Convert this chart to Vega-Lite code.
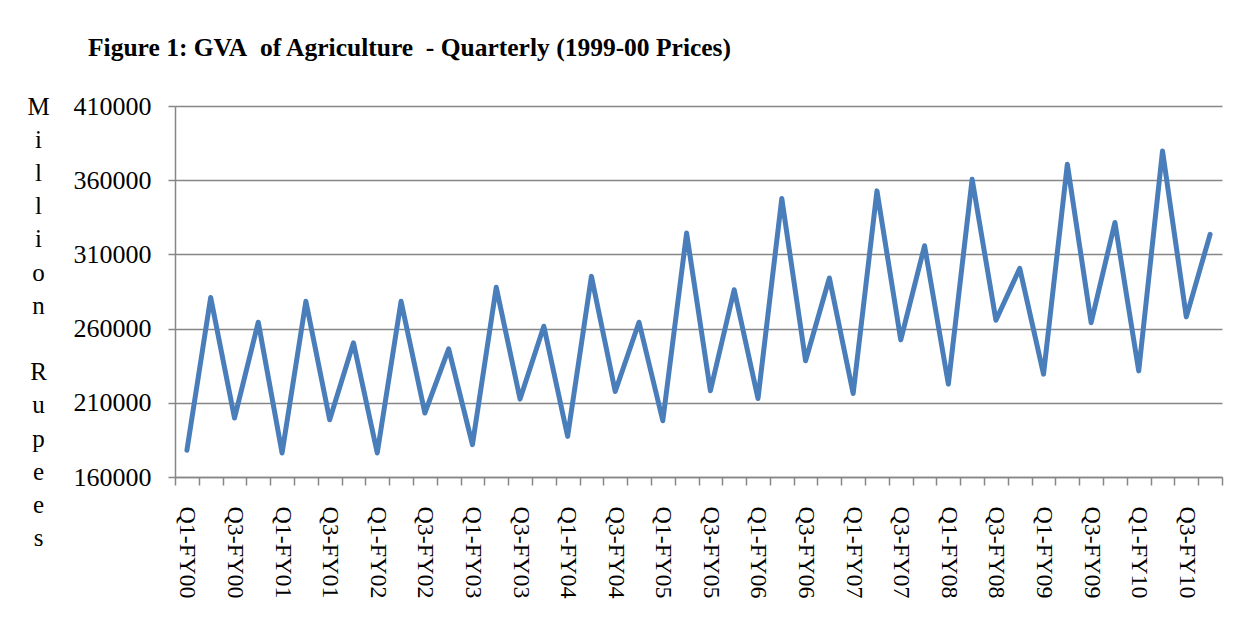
{
  "$schema": "https://vega.github.io/schema/vega-lite/v6.json",
  "width": 1047,
  "height": 371,
  "autosize": {"type": "none"},
  "padding": {"left": 175, "top": 106, "right": 17, "bottom": 145},
  "background": "white",
  "title": {
    "text": "Figure 1: GVA\u00a0 of Agriculture\u00a0 - Quarterly (1999-00 Prices)",
    "anchor": "start",
    "frame": "group",
    "dx": -87,
    "font": "Liberation Serif",
    "fontSize": 25.5,
    "fontWeight": "bold",
    "color": "black",
    "offset": 32
  },
  "data": {
    "values": [
      {"q": "Q1-FY00", "v": 178000}, {"q": "Q2-FY00", "v": 281000}, {"q": "Q3-FY00", "v": 199700}, {"q": "Q4-FY00", "v": 264300},
      {"q": "Q1-FY01", "v": 176200}, {"q": "Q2-FY01", "v": 278400}, {"q": "Q3-FY01", "v": 198600}, {"q": "Q4-FY01", "v": 250400},
      {"q": "Q1-FY02", "v": 176200}, {"q": "Q2-FY02", "v": 278400}, {"q": "Q3-FY02", "v": 203100}, {"q": "Q4-FY02", "v": 246300},
      {"q": "Q1-FY03", "v": 181800}, {"q": "Q2-FY03", "v": 287800}, {"q": "Q3-FY03", "v": 212500}, {"q": "Q4-FY03", "v": 261600},
      {"q": "Q1-FY04", "v": 187400}, {"q": "Q2-FY04", "v": 295200}, {"q": "Q3-FY04", "v": 217600}, {"q": "Q4-FY04", "v": 264300},
      {"q": "Q1-FY05", "v": 197900}, {"q": "Q2-FY05", "v": 324400}, {"q": "Q3-FY05", "v": 218100}, {"q": "Q4-FY05", "v": 286200},
      {"q": "Q1-FY06", "v": 212900}, {"q": "Q2-FY06", "v": 347700}, {"q": "Q3-FY06", "v": 238300}, {"q": "Q4-FY06", "v": 294100},
      {"q": "Q1-FY07", "v": 216300}, {"q": "Q2-FY07", "v": 352800}, {"q": "Q3-FY07", "v": 252400}, {"q": "Q4-FY07", "v": 315800},
      {"q": "Q1-FY08", "v": 222600}, {"q": "Q2-FY08", "v": 360700}, {"q": "Q3-FY08", "v": 265600}, {"q": "Q4-FY08", "v": 300600},
      {"q": "Q1-FY09", "v": 229300}, {"q": "Q2-FY09", "v": 370800}, {"q": "Q3-FY09", "v": 264000}, {"q": "Q4-FY09", "v": 331500},
      {"q": "Q1-FY10", "v": 231500}, {"q": "Q2-FY10", "v": 379700}, {"q": "Q3-FY10", "v": 267900}, {"q": "Q4-FY10", "v": 323500}
    ]
  },
  "mark": {"type": "line", "color": "#4a7ebb", "strokeWidth": 5, "strokeJoin": "round", "strokeCap": "round"},
  "encoding": {
    "x": {
      "field": "q",
      "type": "ordinal",
      "sort": null,
      "scale": {"type": "band", "paddingInner": 0, "paddingOuter": 0},
      "axis": {
        "title": null,
        "tickBand": "extent",
        "labelExpr": "indexof(datum.label, 'Q1') == 0 || indexof(datum.label, 'Q3') == 0 ? datum.label : ''",
        "labelAngle": 90,
        "labelAlign": "left",
        "labelBaseline": "middle",
        "labelPadding": 21,
        "labelOverlap": false,
        "labelFont": "Liberation Serif",
        "labelFontSize": 24,
        "labelColor": "black",
        "tickSize": 8,
        "tickColor": "#868686",
        "tickWidth": 1.5,
        "domainColor": "#868686",
        "domainWidth": 1.5,
        "grid": false
      }
    },
    "y": {
      "field": "v",
      "type": "quantitative",
      "scale": {"domain": [160000, 410000], "nice": false, "zero": false},
      "axis": {
        "values": [160000, 210000, 260000, 310000, 360000, 410000],
        "format": "d",
        "title": ["M", "i", "l", "l", "i", "o", "n", "\u2800", "R", "u", "p", "e", "e", "s"],
        "titleAngle": 0,
        "titleAlign": "center",
        "titleBaseline": "middle",
        "titleX": -137,
        "titleY": 0,
        "titleLineHeight": 33.2,
        "titleFont": "Liberation Serif",
        "titleFontSize": 25,
        "titleFontWeight": "normal",
        "titleColor": "black",
        "labelFont": "Liberation Serif",
        "labelFontSize": 26,
        "labelColor": "black",
        "labelPadding": 17,
        "tickSize": 7,
        "tickColor": "#868686",
        "tickWidth": 1.5,
        "domainColor": "#868686",
        "domainWidth": 1.5,
        "grid": true,
        "gridColor": "#868686",
        "gridWidth": 1.5
      }
    }
  },
  "config": {"view": {"stroke": null}}
}
